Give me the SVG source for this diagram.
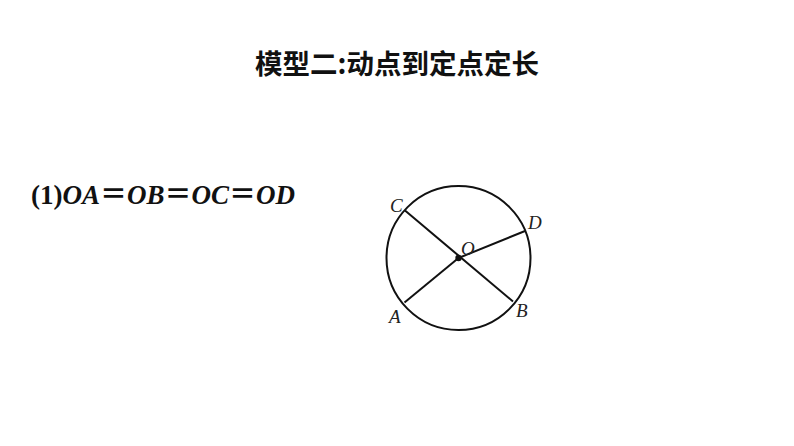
<svg xmlns="http://www.w3.org/2000/svg" width="794" height="446" viewBox="0 0 794 446">
<style>
.title{font-family:"Noto Sans CJK SC","Noto Sans",sans-serif;font-weight:bold;font-size:27.5px;fill:#111}
.eq{font-family:"Liberation Serif","Noto Sans CJK SC",serif;font-weight:bold;font-size:27px;fill:#111}
.it{font-style:italic}
.lbl{font-family:"Liberation Serif",serif;font-style:italic;font-size:19px;fill:#222}
.ln{stroke:#111;stroke-width:2;fill:none}
</style>
<rect width="794" height="446" fill="#fff"/>
<text class="title" x="397" y="74" text-anchor="middle">模型二:动点到定点定长</text>
<text class="eq" x="31" y="204">(1)<tspan class="it">OA</tspan>＝<tspan class="it">OB</tspan>＝<tspan class="it">OC</tspan>＝<tspan class="it">OD</tspan></text>
<g id="connectors">
<line class="ln" x1="405" y1="210.5" x2="513" y2="301.5"/>
<line class="ln" x1="404.5" y1="302.5" x2="458.5" y2="258"/>
<line class="ln" x1="458.5" y1="258" x2="525" y2="231"/>
</g>
<g id="circle"><circle class="ln" cx="458.5" cy="258" r="72"/></g>
<g id="O"><circle cx="458.5" cy="258" r="3.2" fill="#111"/><text class="lbl" x="461" y="255">O</text></g>
<g id="C"><text class="lbl" x="390" y="212">C</text></g>
<g id="D"><text class="lbl" x="528" y="229">D</text></g>
<g id="A"><text class="lbl" x="389" y="323">A</text></g>
<g id="B"><text class="lbl" x="516" y="317">B</text></g>
</svg>
